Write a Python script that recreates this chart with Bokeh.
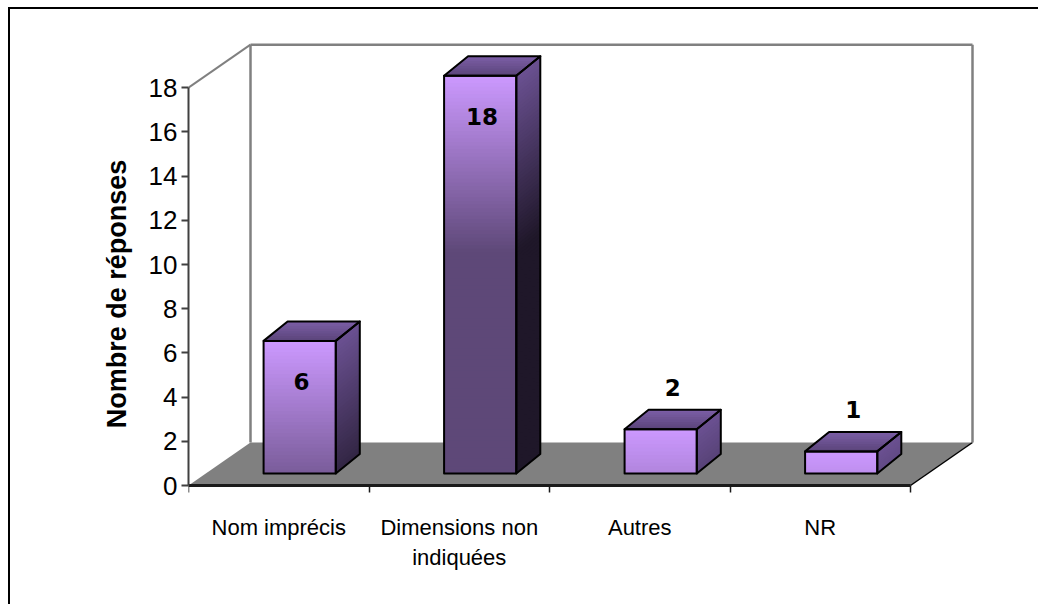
import numpy as np
from bokeh.plotting import figure
from bokeh.models import FixedTicker, Range1d
from bokeh.embed import file_html
from bokeh.resources import INLINE
from bokeh.core.properties import value

# ---------------- data ----------------
categories = ["Nom imprécis", "Dimensions non\nindiquées", "Autres", "NR"]
counts = [6, 18, 2, 1]
y_ticks = [0, 2, 4, 6, 8, 10, 12, 14, 16, 18]
y_label = "Nombre de réponses"

# ---------------- geometry (data units) ----------------
Y_MAX = 18
DX, DY = 0.3435, 1.946           # depth of the 3D box (floor / back wall)
SHIFT_X, SHIFT_Y = 0.116, 0.543  # bar front plane inside the box
BAR_W = 0.40
BDX, BDY = 0.133, 0.882          # bar depth
PX_X, PX_Y = 180.5, 22.1         # pixels per data unit
FRAME_W, FRAME_H = 787, 569
Y_TOP = 476 / PX_Y               # frame top sits 476 px above y = 0


def hex2rgb(h):
    h = h.lstrip("#")
    return np.array([int(h[i:i + 2], 16) for i in (0, 2, 4)], dtype=float)


def rgb2hex(c):
    c = np.clip(np.round(c), 0, 255).astype(int)
    return "#%02x%02x%02x" % tuple(c)


def lerp(c1, c2, t):
    return rgb2hex(hex2rgb(c1) * (1 - t) + hex2rgb(c2) * t)


FRONT_LIGHT, FRONT_DARK = "#cc99ff", "#5e4878"
SIDE_LIGHT, SIDE_DARK = "#6b5192", "#1f1729"
TOP_BACK, TOP_FRONT = "#7d5fa8", "#5a4479"

W, H = 1030, 597
TOP_B, LEFT_B = 0, 178
p = figure(width=W, height=H, output_backend="svg", toolbar_location=None,
           x_range=Range1d(0, FRAME_W / PX_X),
           y_range=Range1d(Y_TOP - FRAME_H / PX_Y, Y_TOP),
           min_border_left=LEFT_B, min_border_right=W - LEFT_B - FRAME_W,
           min_border_top=TOP_B, min_border_bottom=H - TOP_B - FRAME_H)
p.styles = {"border-left": "2px solid #000000", "border-top": "2px solid #000000",
            "margin-left": "8px", "margin-top": "7px"}
p.outline_line_color = None
p.grid.visible = False
p.background_fill_color = "white"
p.border_fill_color = "white"

n = len(categories)

# floor
p.patch([0, n, n + DX, DX], [0, 0, DY, DY], fill_color="#808080", line_color=None)
p.line([n, n + DX], [0, DY], line_color="#000000", line_width=1.5)
# back wall + slanted edge
p.line([DX, DX], [DY, Y_MAX + DY], line_color="#808080", line_width=2.5)
p.line([DX, n + DX], [Y_MAX + DY, Y_MAX + DY], line_color="#808080", line_width=2.5)
p.line([n + DX, n + DX], [DY, Y_MAX + DY], line_color="#808080", line_width=2.5)
p.line([0, DX], [Y_MAX, Y_MAX + DY], line_color="#808080", line_width=2)

# bars (gradient built from overlapping slices, painted bottom-up)
fl, fr, fb, ft, fc = [], [], [], [], []
sxs, sys, scs = [], [], []
txs, tys, tcs = [], [], []
oxs, oys = [], []
for i, v in enumerate(counts):
    cx = i + 0.5 + SHIFT_X
    x0, x1 = cx - BAR_W / 2, cx + BAR_W / 2
    y0, y1 = SHIFT_Y, SHIFT_Y + v
    nsl = max(10, int(v * 6))
    edges = np.linspace(y0, y1, nsl + 1)
    for a, b in zip(edges[:-1], edges[1:]):
        t = min(1.0, (y1 - 0.5 * (a + b)) / 8.0)
        fl.append(x0); fr.append(x1); fb.append(a); ft.append(y1)
        fc.append(lerp(FRONT_LIGHT, FRONT_DARK, t))
        sxs.append([x1, x1 + BDX, x1 + BDX, x1])
        sys.append([a, a + BDY, y1 + BDY, y1])
        scs.append(lerp(SIDE_LIGHT, SIDE_DARK, t))
    tk = np.linspace(0, 1, 9)
    for a, b in zip(tk[:-1], tk[1:]):
        t = 0.5 * (a + b)
        txs.append([x0 + BDX * a, x1 + BDX * a, x1 + BDX, x0 + BDX])
        tys.append([y1 + BDY * a, y1 + BDY * a, y1 + BDY, y1 + BDY])
        tcs.append(lerp(TOP_FRONT, TOP_BACK, t))
    oxs += [[x0, x1, x1, x0], [x1, x1 + BDX, x1 + BDX, x1],
            [x0, x1, x1 + BDX, x0 + BDX]]
    oys += [[y0, y0, y1, y1], [y0, y0 + BDY, y1 + BDY, y1],
            [y1, y1, y1 + BDY, y1 + BDY]]

p.quad(left=fl, right=fr, bottom=fb, top=ft, fill_color=fc, line_color=None)
p.patches(sxs, sys, fill_color=scs, line_color=None)
p.patches(txs, tys, fill_color=tcs, line_color=None)
p.patches(oxs, oys, fill_color=None, line_color="#000000", line_width=2,
          line_join="round")

# data labels
lx, ly, lt = [], [], []
for i, v in enumerate(counts):
    if v > 4:
        lx.append(i + 0.5 + SHIFT_X + 0.01)
        ly.append(SHIFT_Y + v - 1.85)
    else:
        lx.append(i + 0.5 + SHIFT_X + BDX / 2)
        ly.append(SHIFT_Y + v + BDY + 1.0)
    lt.append(str(v))
p.text(lx, ly, text=lt, text_align="center", text_baseline="middle",
       text_font=value("DejaVu Sans"), text_font_style="bold",
       text_font_size="23px", text_color="#000000")

# y axis
ya = p.yaxis[0]
ya.ticker = FixedTicker(ticks=y_ticks, minor_ticks=[])
ya.bounds = (0, Y_MAX)
ya.axis_line_color = "#404040"
ya.axis_line_width = 2
ya.major_tick_line_color = "#404040"
ya.major_tick_line_width = 2
ya.major_tick_out = 7
ya.major_tick_in = 0
ya.major_label_standoff = 4
ya.major_label_text_font = "Liberation Sans"
ya.major_label_text_font_size = "26px"
ya.major_label_text_color = "#000000"
ya.axis_label = y_label
ya.axis_label_text_font = "Liberation Sans"
ya.axis_label_text_font_style = "bold"
ya.axis_label_text_font_size = "27px"
ya.axis_label_text_color = "#000000"
ya.axis_label_standoff = 14

# x axis (drawn at y = 0, inside the extended frame)
xa = p.xaxis[0]
centers = [i + 0.5 for i in range(n)]
xa.fixed_location = 0
xa.ticker = FixedTicker(ticks=centers, minor_ticks=list(range(n + 1)))
xa.bounds = (0, n)
xa.major_label_overrides = {c: lab for c, lab in zip(centers, categories)}
xa.axis_line_color = "#1a1a1a"
xa.axis_line_width = 3
xa.major_tick_out = 0
xa.major_tick_in = 0
xa.minor_tick_out = 7
xa.minor_tick_in = 0
xa.minor_tick_line_color = "#1a1a1a"
xa.minor_tick_line_width = 1.5
xa.major_label_standoff = 22
xa.major_label_text_font = "Liberation Sans"
xa.major_label_text_font_size = "22px"
xa.major_label_text_color = "#000000"

open("out.html", "w").write(file_html(p, INLINE))
